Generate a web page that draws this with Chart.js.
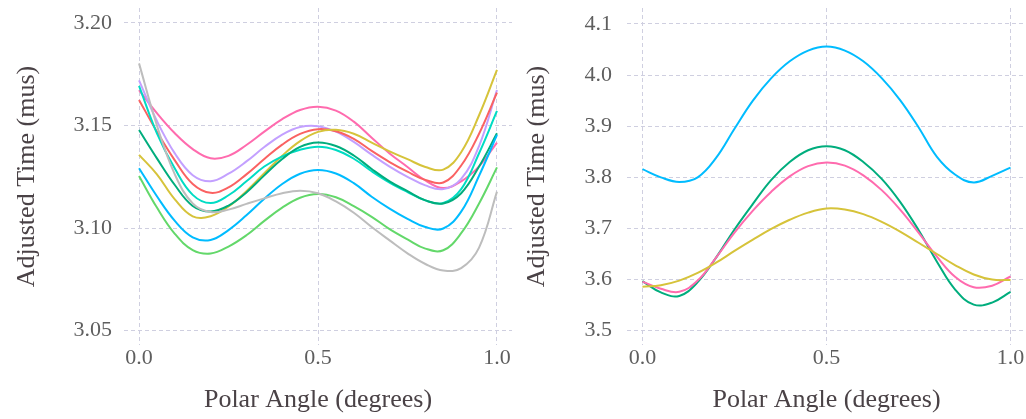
<!DOCTYPE html>
<html>
<head>
<meta charset="utf-8">
<script src="https://cdn.jsdelivr.net/npm/chart.js@4.4.1/dist/chart.umd.min.js"></script>
<style>
  html, body { margin: 0; padding: 0; background: #fff; }
  #wrap { position: relative; width: 1026px; height: 419px; }
  .panel { position: absolute; top: 0; width: 513px; height: 419px; }
</style>
</head>
<body>
<div id="wrap">
  <div class="panel" style="left:0"><canvas id="leftChart" width="513" height="419"></canvas></div>
  <div class="panel" style="left:513px"><canvas id="rightChart" width="513" height="419"></canvas></div>
</div>
<script>
// Polar angle samples (degrees), same grid for both panels
const angles = [0, 0.05, 0.1, 0.15, 0.2, 0.25, 0.3, 0.35, 0.4, 0.45, 0.5,
                0.55, 0.6, 0.65, 0.7, 0.75, 0.8, 0.85, 0.9, 0.95, 1];

// Adjusted time (mus), left panel
const leftGray     = [3.1803, 3.1500, 3.1262, 3.1120, 3.1078, 3.1090, 3.1118, 3.1145, 3.1170, 3.1182, 3.1170, 3.1130, 3.1075, 3.1005, 3.0940, 3.0877, 3.0825, 3.0793, 3.0805, 3.0905, 3.1178];
const leftYellow   = [3.1357, 3.1262, 3.1140, 3.1057, 3.1058, 3.1105, 3.1180, 3.1267, 3.1353, 3.1424, 3.1469, 3.1479, 3.1460, 3.1417, 3.1374, 3.1336, 3.1298, 3.1285, 3.1370, 3.1550, 3.1771];
const leftPink     = [3.1673, 3.1560, 3.1462, 3.1385, 3.1340, 3.1352, 3.1405, 3.1470, 3.1531, 3.1576, 3.1592, 3.1573, 3.1519, 3.1441, 3.1364, 3.1298, 3.1232, 3.1195, 3.1228, 3.1301, 3.1417];
const leftLavender = [3.1720, 3.1522, 3.1364, 3.1258, 3.1228, 3.1265, 3.1325, 3.1395, 3.1456, 3.1493, 3.1497, 3.1470, 3.1420, 3.1358, 3.1300, 3.1250, 3.1208, 3.1190, 3.1240, 3.1400, 3.1673];
const leftRed      = [3.1625, 3.1470, 3.1330, 3.1215, 3.1172, 3.1198, 3.1262, 3.1337, 3.1407, 3.1459, 3.1482, 3.1472, 3.1435, 3.1376, 3.1322, 3.1275, 3.1235, 3.1222, 3.1305, 3.1460, 3.1660];
const leftTeal     = [3.1693, 3.1462, 3.1290, 3.1162, 3.1122, 3.1160, 3.1228, 3.1300, 3.1350, 3.1382, 3.1397, 3.1381, 3.1338, 3.1277, 3.1222, 3.1176, 3.1135, 3.1122, 3.1190, 3.1365, 3.1571];
const leftGreen    = [3.1478, 3.1340, 3.1210, 3.1108, 3.1081, 3.1110, 3.1174, 3.1257, 3.1337, 3.1396, 3.1417, 3.1400, 3.1354, 3.1288, 3.1228, 3.1180, 3.1135, 3.1120, 3.1170, 3.1300, 3.1462];
const leftBlue     = [3.1292, 3.1155, 3.1035, 3.0955, 3.0942, 3.0990, 3.1062, 3.1143, 3.1215, 3.1265, 3.1283, 3.1266, 3.1219, 3.1153, 3.1095, 3.1045, 3.1005, 3.0998, 3.1080, 3.1255, 3.1454];
const leftLime     = [3.1254, 3.1100, 3.0972, 3.0893, 3.0876, 3.0910, 3.0965, 3.1035, 3.1100, 3.1148, 3.1166, 3.1150, 3.1107, 3.1055, 3.0995, 3.0945, 3.0900, 3.0892, 3.0975, 3.1120, 3.1296];

// Adjusted time (mus), right panel
const rightBlue   = [3.816, 3.800, 3.791, 3.800, 3.838, 3.895, 3.950, 3.994, 4.027, 4.048, 4.056, 4.048, 4.027, 3.994, 3.951, 3.898, 3.840, 3.805, 3.790, 3.803, 3.819];
const rightGreen  = [3.597, 3.575, 3.568, 3.595, 3.643, 3.698, 3.748, 3.795, 3.830, 3.853, 3.861, 3.853, 3.830, 3.797, 3.752, 3.697, 3.635, 3.580, 3.551, 3.555, 3.576];
const rightPink   = [3.596, 3.582, 3.576, 3.598, 3.643, 3.692, 3.735, 3.772, 3.802, 3.822, 3.829, 3.823, 3.804, 3.775, 3.737, 3.692, 3.645, 3.605, 3.585, 3.588, 3.606];
const rightYellow = [3.586, 3.589, 3.598, 3.613, 3.633, 3.656, 3.678, 3.699, 3.717, 3.731, 3.739, 3.737, 3.728, 3.713, 3.694, 3.672, 3.650, 3.628, 3.610, 3.600, 3.599];

// tick positions
const angleTicks = [0, 0.5, 1];
const leftTimeTicks = [3.05, 3.10, 3.15, 3.20];
const rightTimeTicks = [3.5, 3.6, 3.7, 3.8, 3.9, 4.0, 4.1];

const FONT = "'Liberation Serif', 'Times New Roman', serif";
const tickColor = '#5e5e5e';
const titleColor = '#4a4246';
const gridColor = '#cfcfe0';

function series(ys, color) {
    return {
        data: angles.map((x, i) => ({ x: x, y: ys[i] })),
        borderColor: color,
        borderWidth: 2,
        pointRadius: 0,
        fill: false,
        tension: 0.4
    };
}

function buildScales(cfg) {
    return {
        x: {
            type: 'linear',
            min: -0.042,
            max: 1.042,
            afterBuildTicks: s => { s.ticks = angleTicks.map(v => ({ value: v })); },
            afterFit: s => { s.height = 74; s.paddingLeft = 0; s.paddingRight = 0; },
            grid: { color: gridColor, lineWidth: 1, drawTicks: false },
            border: { display: false, dash: [4, 3] },
            ticks: {
                color: tickColor,
                font: { family: FONT, size: 22 },
                padding: 0,
                maxRotation: 0,
                callback: v => Number(v).toFixed(1)
            },
            title: {
                display: true,
                text: 'Polar Angle (degrees)',
                color: titleColor,
                font: { family: FONT, size: 26 },
                padding: { top: 0, bottom: 3 }
            }
        },
        y: {
            type: 'linear',
            min: cfg.min,
            max: cfg.max,
            afterBuildTicks: s => { s.ticks = cfg.ticks.map(v => ({ value: v })); },
            // fixed axis width, and no extra room for the end labels
            afterFit: s => { s.width = cfg.axisWidth; s.paddingTop = 0; s.paddingBottom = 0; },
            grid: { color: gridColor, lineWidth: 1, drawTicks: false },
            border: { display: false, dash: [4, 3] },
            ticks: {
                color: tickColor,
                font: { family: FONT, size: 22 },
                padding: cfg.tickPad,
                callback: v => Number(v).toFixed(cfg.digits)
            },
            title: {
                display: true,
                text: 'Adjusted Time (mus)',
                color: titleColor,
                font: { family: FONT, size: 26 },
                padding: { top: cfg.titlePad, bottom: 0 }
            }
        }
    };
}

const baseOptions = {
    responsive: false,
    animation: false,
    plugins: { legend: { display: false }, tooltip: { enabled: false } }
};

// Left panel
new Chart(document.getElementById('leftChart').getContext('2d'), {
    type: 'line',
    data: {
        datasets: [
            series(leftGray, '#bdbdbd'),
            series(leftLime, '#63d86a'),
            series(leftBlue, '#00bcff'),
            series(leftGreen, '#00ad7d'),
            series(leftTeal, '#00dcc4'),
            series(leftYellow, '#d6c33a'),
            series(leftRed, '#fa6262'),
            series(leftLavender, '#c3a0ff'),
            series(leftPink, '#ff6bae')
        ]
    },
    options: Object.assign({}, baseOptions, {
        layout: { padding: { top: 8, right: 1, bottom: 0, left: 0 } },
        scales: buildScales({ min: 3.0430, max: 3.2073, ticks: leftTimeTicks, digits: 2, axisWidth: 124, tickPad: 12, titlePad: 12 })
    })
});

// Right panel
new Chart(document.getElementById('rightChart').getContext('2d'), {
    type: 'line',
    data: {
        datasets: [
            series(rightYellow, '#d6c33a'),
            series(rightPink, '#ff6bae'),
            series(rightGreen, '#00ad7d'),
            series(rightBlue, '#00bcff')
        ]
    },
    options: Object.assign({}, baseOptions, {
        layout: { padding: { top: 8, right: 0, bottom: 0, left: 0 } },
        scales: buildScales({ min: 3.472, max: 4.1313, ticks: rightTimeTicks, digits: 1, axisWidth: 114, tickPad: 15, titlePad: 9 })
    })
});
</script>
</body>
</html>
